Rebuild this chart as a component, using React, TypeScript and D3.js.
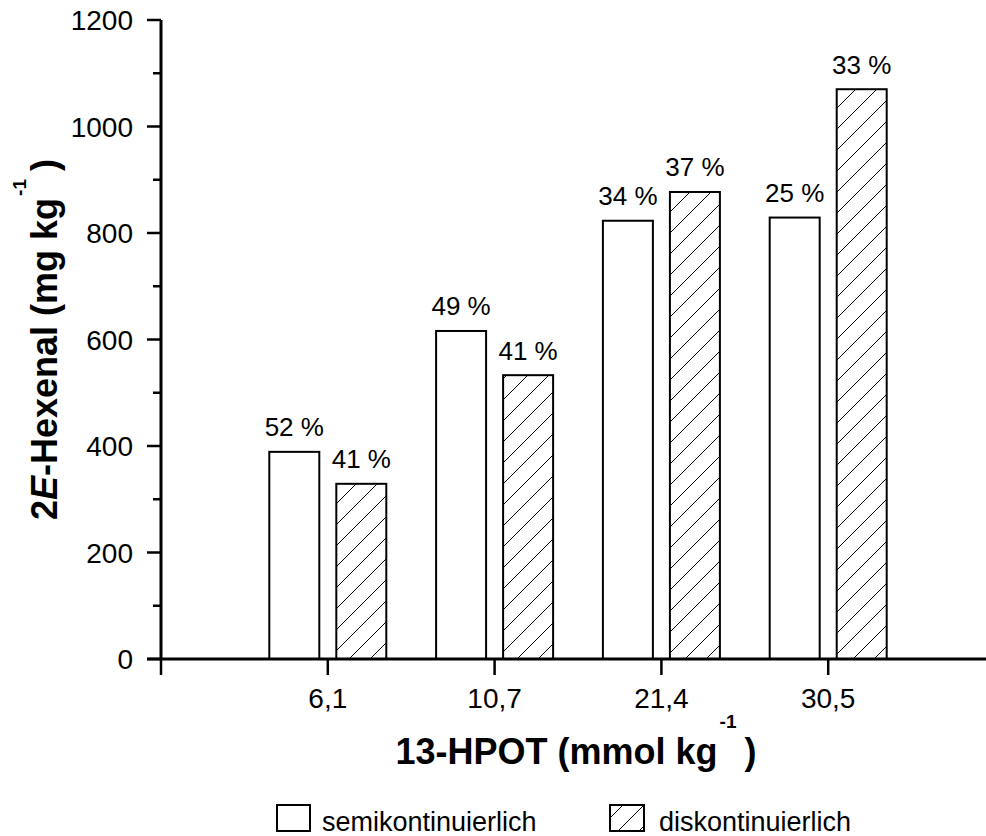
import React from "react";
import * as d3 from "d3";

// 13-HPOT concentrations (mmol/kg) used as categories
const categories = ["6,1", "10,7", "21,4", "30,5"];
// 2E-hexenal yield (mg/kg) for each process variant
const semiValues = [389, 616, 823, 829];
const diskValues = [329, 533, 877, 1070];
// conversion labels printed above the bars
const semiLabels = ["52 %", "49 %", "34 %", "25 %"];
const diskLabels = ["41 %", "41 %", "37 %", "33 %"];
const seriesNames = ["semikontinuierlich", "diskontinuierlich"];
const yTicks = [0, 200, 400, 600, 800, 1000, 1200];

const W = 986;
const H = 836;
const FONT = "'Liberation Sans', Arial, Helvetica, sans-serif";

export default function App() {
  const x = d3.scalePoint<string>().domain(categories).range([161, 995]).padding(1);
  const sub = d3.scaleBand<string>().domain(seriesNames).range([-58.5, 58.5]).paddingInner(0.254);
  const y = d3.scaleLinear().domain([0, 1200]).range([659, 20]);
  const minor = y.ticks(12).filter((t) => !yTicks.includes(t));
  const [x0, x1] = x.range();
  const bw = sub.bandwidth();

  const series = [
    { name: seriesNames[0], values: semiValues, labels: semiLabels, fill: "#fff" },
    { name: seriesNames[1], values: diskValues, labels: diskLabels, fill: "url(#hatch)" },
  ];

  return (
    <svg
      width={W}
      height={H}
      style={{ position: "absolute", left: 0, top: 0, background: "#fff" }}
      fontFamily={FONT}
    >
      <defs>
        <pattern id="hatch" patternUnits="userSpaceOnUse" width={21} height={21}>
          <rect width={21} height={21} fill="#fff" />
          <path d="M-5,5 L5,-5 M0,21 L21,0 M16,26 L26,16" stroke="#000" strokeWidth={1} />
        </pattern>
      </defs>

      {/* bars */}
      {series.map((s) =>
        categories.map((c, i) => {
          const bx = (x(c) as number) + (sub(s.name) as number);
          const by = y(s.values[i]);
          return (
            <g key={s.name + c}>
              <rect
                x={bx}
                y={by}
                width={bw}
                height={y(0) - by}
                fill={s.fill}
                stroke="#000"
                strokeWidth={2}
              />
              <text x={bx + bw / 2} y={by - 15.5} textAnchor="middle" fontSize={26}>
                {s.labels[i]}
              </text>
            </g>
          );
        })
      )}

      {/* y axis */}
      <line x1={x0} x2={x0} y1={y(1200)} y2={y(0)} stroke="#000" strokeWidth={3} />
      {yTicks.map((t) => (
        <g key={"y" + t}>
          <line x1={x0 - 14} x2={x0} y1={y(t)} y2={y(t)} stroke="#000" strokeWidth={2.5} />
          <text x={x0 - 28} y={y(t)} dy="0.36em" textAnchor="end" fontSize={28}>
            {t}
          </text>
        </g>
      ))}
      {minor.map((t) => (
        <line key={"m" + t} x1={x0 - 8} x2={x0} y1={y(t)} y2={y(t)} stroke="#000" strokeWidth={2.5} />
      ))}

      {/* x axis */}
      <line x1={x0 - 14} x2={x1} y1={y(0)} y2={y(0)} stroke="#000" strokeWidth={3} />
      {[x0, ...categories.map((c) => x(c) as number)].map((px, i) => (
        <line key={"xt" + i} x1={px} x2={px} y1={y(0)} y2={y(0) + 16} stroke="#000" strokeWidth={2.5} />
      ))}
      {categories.map((c) => (
        <text key={"xl" + c} x={x(c) as number} y={708} textAnchor="middle" fontSize={28}>
          {c}
        </text>
      ))}

      {/* axis titles */}
      <text x={576} y={764} textAnchor="middle" fontSize={36} fontWeight="bold">
        13-HPOT (mmol kg
        <tspan dx={2} dy={-36} fontSize={19}>-1</tspan>
        <tspan dx={8} dy={36}>)</tspan>
      </text>
      <text
        transform={`translate(57, ${(y(0) + y(1200)) / 2}) rotate(-90)`}
        textAnchor="middle"
        fontSize={36}
        fontWeight="bold"
      >
        2<tspan fontStyle="italic">E</tspan>-Hexenal (mg kg
        <tspan dx={2} dy={-31} fontSize={19}>-1</tspan>
        <tspan dx={8} dy={31}>)</tspan>
      </text>

      {/* legend */}
      <rect x={277} y={805} width={33} height={26} fill="#fff" stroke="#000" strokeWidth={2} />
      <text x={322} y={831} fontSize={27}>{seriesNames[0]}</text>
      <rect x={610} y={805} width={34} height={26} fill="url(#hatch)" stroke="#000" strokeWidth={2} />
      <text x={659} y={831} fontSize={27}>{seriesNames[1]}</text>
    </svg>
  );
}
